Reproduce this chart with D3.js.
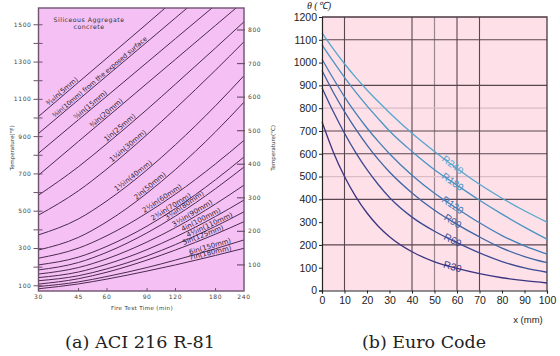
<!DOCTYPE html>
<html>
<head>
<meta charset="utf-8">
<script src="https://cdn.jsdelivr.net/npm/d3@7"></script>
<style>
  body { margin: 0; background: #fff; }
</style>
</head>
<body>
<div class="canvas"></div>
<script>
// ---------- (a) ACI 216 R-81 : temperature (°F) vs fire test time (min)
const aciTimes = [30, 45, 60, 90, 120, 180, 240];
const aciLabels = [
  '³⁄₁₆in(5mm)', '⅜in(10mm) from the exposed surface', '⅝in(15mm)', '¾in(20mm)',
  '1in(25mm)', '1¼in(30mm)', '1½in(40mm)', '2in(50mm)', '2½in(60mm)', '2¾in(70mm)',
  '3¼in(80mm)', '3½in(90mm)', '4in(100mm)', '4½in(110mm)', '5in(125mm)', '6in(150mm)', '7in(180mm)'
];
// where each label sits along its curve (min)
const aciLabelTimes = [39, 57, 52, 61, 70, 76, 80, 95, 107, 117, 134, 145, 158, 172, 161, 172, 172];
const aciTemps = [
  [1008, 1192, 1322, 1506, 1638, 1822, 1952],
  [917, 1098, 1227, 1408, 1537, 1719, 1847],
  [811, 991, 1118, 1298, 1426, 1606, 1733],
  [693, 875, 1004, 1186, 1315, 1497, 1626],
  [586, 739, 863, 1046, 1182, 1376, 1516],
  [479, 610, 727, 911, 1051, 1257, 1409],
  [373, 459, 556, 722, 857, 1066, 1227],
  [292, 360, 444, 597, 724, 926, 1085],
  [248, 302, 369, 491, 592, 754, 880],
  [212, 254, 312, 420, 515, 669, 791],
  [185, 225, 280, 384, 474, 621, 737],
  [163, 198, 245, 335, 412, 539, 640],
  [144, 174, 216, 294, 362, 472, 560],
  [127, 154, 191, 260, 321, 419, 497],
  [109, 138, 173, 238, 292, 377, 444],
  [96, 121, 150, 198, 238, 299, 346],
  [84, 110, 136, 179, 212, 263, 301]
];
const aciFTicks = [100, 200, 300, 400, 500, 600, 700, 800, 900, 1000, 1100, 1200, 1300, 1400, 1500];
const aciFLabelled = [100, 300, 500, 700, 900, 1100, 1300, 1500];
const aciCTicks = [100, 200, 300, 400, 500, 600, 700, 800];
const aciTimeTicks = [30, 45, 60, 90, 120, 180, 240];

// ---------- (b) Euro Code : temperature (°C) vs depth x (mm)
const euroX = [0, 5, 10, 15, 20, 25, 30, 40, 50, 60, 70, 80, 90, 100];
const r30 = [740, 608, 500, 412, 340, 282, 236, 170, 126, 97, 74, 56, 43, 33];
const r60 = [890, 785, 690, 605, 530, 465, 408, 322, 260, 210, 165, 127, 99, 80];
const r90 = [965, 870, 785, 708, 638, 575, 520, 428, 352, 290, 235, 186, 149, 122];
const r120 = [1015, 930, 850, 778, 713, 654, 600, 506, 427, 360, 297, 241, 196, 160];
const r180 = [1078, 1005, 935, 870, 810, 754, 700, 610, 530, 462, 396, 335, 278, 225];
const r240 = [1130, 1060, 995, 935, 880, 829, 780, 690, 610, 535, 466, 405, 350, 300];
const euroNames = ['R30', 'R60', 'R90', 'R120', 'R180', 'R240'];
const euroSeries = [r30, r60, r90, r120, r180, r240];
const euroColors = ['#3a3380', '#3b4a93', '#3e64a4', '#437db7', '#4a93c4', '#55a6cf'];
const euroLabelX = 58;
const euroTTicks = [0, 100, 200, 300, 400, 500, 600, 700, 800, 900, 1000, 1100, 1200];
const euroXTicks = [0, 10, 20, 30, 40, 50, 60, 70, 80, 90, 100];
const euroGridX = [10, 40, 60, 70];
const euroGridXLight = [50];
const euroGridY = [1100, 900, 700, 600, 400, 200];
const euroGridYLight = [800, 500];

const svg = d3
  .select('.canvas')
  .append('svg')
  .attr('width', 560)
  .attr('height', 356)
  .style('display', 'block');

// ================= panel (a) =================
const ax = d3.scaleLog().domain([30, 240]).range([38.5, 244]);
const ay = d3.scaleLinear().domain([72, 1590]).range([291, 8]);
const ayC = d3.scaleLinear().domain([(72 - 32) / 1.8, (1590 - 32) / 1.8]).range([291, 8]);
const [ax0, ax1] = ax.range();
const [ay0, ay1] = ay.range();

const ga = svg.append('g');
ga.append('rect')
  .attr('x', ax0).attr('y', ay1)
  .attr('width', ax1 - ax0).attr('height', ay0 - ay1)
  .attr('fill', '#f5c1f5');

svg.append('clipPath').attr('id', 'clipA')
  .append('rect')
  .attr('x', ax0).attr('y', ay1)
  .attr('width', ax1 - ax0).attr('height', ay0 - ay1);

const aLine = d3.line()
  .x((d, i) => ax(aciTimes[i]))
  .y(d => ay(d))
  .curve(d3.curveMonotoneX);

ga.append('g').attr('clip-path', 'url(#clipA)')
  .selectAll('path')
  .data(aciTemps)
  .enter()
  .append('path')
  .attr('d', aLine)
  .attr('fill', 'none')
  .attr('stroke', '#4a2a4c')
  .attr('stroke-width', 1);

// curve labels
const pointOn = (vals, t) => {
  let i = 0;
  while (i < aciTimes.length - 2 && t > aciTimes[i + 1]) i++;
  const x0 = ax(aciTimes[i]), x1 = ax(aciTimes[i + 1]);
  const y0 = ay(vals[i]), y1 = ay(vals[i + 1]);
  const f = (ax(t) - x0) / (x1 - x0);
  return { x: ax(t), y: y0 + f * (y1 - y0), a: Math.atan2(y1 - y0, x1 - x0) * 180 / Math.PI };
};
aciTemps.forEach((vals, i) => {
  const p = pointOn(vals, aciLabelTimes[i]);
  ga.append('text')
    .attr('transform', `translate(${p.x},${p.y}) rotate(${p.a})`)
    .attr('dy', -1.5)
    .attr('text-anchor', 'middle')
    .attr('font-family', 'DejaVu Sans, sans-serif')
    .attr('font-size', i === 1 ? 6.4 : 7)
    .attr('fill', '#2e1e30')
    .text(aciLabels[i]);
});

// frame
ga.append('rect')
  .attr('x', ax0).attr('y', ay1)
  .attr('width', ax1 - ax0).attr('height', ay0 - ay1)
  .attr('fill', 'none')
  .attr('stroke', '#6e5270')
  .attr('stroke-width', 1.4);

// left °F ticks
ga.selectAll('.ftick').data(aciFTicks).enter().append('line')
  .attr('x1', ax0 - 5).attr('x2', ax0 + 4)
  .attr('y1', d => ay(d)).attr('y2', d => ay(d))
  .attr('stroke', '#6e5270').attr('stroke-width', 1);
ga.selectAll('.flab').data(aciFLabelled).enter().append('text')
  .attr('x', ax0 - 7).attr('y', d => ay(d) + 2)
  .attr('text-anchor', 'end')
  .attr('font-family', 'DejaVu Sans, sans-serif')
  .attr('font-size', 6).attr('letter-spacing', 0.6)
  .attr('fill', '#444')
  .text(d => d);

// right °C ticks
ga.selectAll('.ctick').data(aciCTicks).enter().append('line')
  .attr('x1', ax1 - 7).attr('x2', ax1 + 1)
  .attr('y1', d => ayC(d)).attr('y2', d => ayC(d))
  .attr('stroke', '#6e5270').attr('stroke-width', 1.2);
ga.selectAll('.clab').data(aciCTicks).enter().append('text')
  .attr('x', ax1 + 4).attr('y', d => ayC(d) + 2)
  .attr('font-family', 'DejaVu Sans, sans-serif')
  .attr('font-size', 6).attr('letter-spacing', 0.6)
  .attr('fill', '#444')
  .text(d => d);

// time ticks
ga.selectAll('.ttick').data(aciTimeTicks.slice(1, -1)).enter().append('line')
  .attr('x1', d => ax(d)).attr('x2', d => ax(d))
  .attr('y1', ay0).attr('y2', ay0 - 3)
  .attr('stroke', '#6e5270');
ga.selectAll('.tlab').data(aciTimeTicks).enter().append('text')
  .attr('x', d => ax(d)).attr('y', 299)
  .attr('text-anchor', 'middle')
  .attr('font-family', 'DejaVu Sans, sans-serif')
  .attr('font-size', 6).attr('letter-spacing', 0.6)
  .attr('fill', '#444')
  .text(d => d);

// axis titles
ga.append('text')
  .attr('transform', 'translate(14,148) rotate(-90)')
  .attr('text-anchor', 'middle')
  .attr('font-family', 'DejaVu Sans, sans-serif')
  .attr('font-size', 5.5).attr('fill', '#333')
  .text('Temperature(°F)');
ga.append('text')
  .attr('transform', 'translate(275,148) rotate(-90)')
  .attr('text-anchor', 'middle')
  .attr('font-family', 'DejaVu Sans, sans-serif')
  .attr('font-size', 5.5).attr('fill', '#333')
  .text('Temperature(°C)');
ga.append('text')
  .attr('x', 142).attr('y', 310)
  .attr('text-anchor', 'middle')
  .attr('font-family', 'DejaVu Sans, sans-serif')
  .attr('font-size', 5.5).attr('letter-spacing', 0.4).attr('fill', '#333')
  .text('Fire Test Time (min)');

// inner title
ga.append('text')
  .attr('x', 89).attr('y', 22)
  .attr('text-anchor', 'middle')
  .attr('font-family', 'DejaVu Sans, sans-serif')
  .attr('font-size', 6.2).attr('letter-spacing', 0.5).attr('fill', '#333')
  .text('Siliceous Aggregate');
ga.append('text')
  .attr('x', 89).attr('y', 29)
  .attr('text-anchor', 'middle')
  .attr('font-family', 'DejaVu Sans, sans-serif')
  .attr('font-size', 6.2).attr('letter-spacing', 0.5).attr('fill', '#333')
  .text('concrete');

// ================= panel (b) =================
const bx = d3.scaleLinear().domain([0, 100]).range([322, 547]);
const by = d3.scaleLinear().domain([0, 1200]).range([290.5, 17]);
const [bx0, bx1] = bx.range();
const [by0, by1] = by.range();

const gb = svg.append('g');
gb.append('rect')
  .attr('x', bx0).attr('y', by1)
  .attr('width', bx1 - bx0).attr('height', by0 - by1)
  .attr('fill', '#fde0e8');

// grid
gb.selectAll('.gxl').data(euroGridXLight).enter().append('line')
  .attr('x1', d => bx(d)).attr('x2', d => bx(d)).attr('y1', by0).attr('y2', by1)
  .attr('stroke', '#9a8890').attr('stroke-width', 1.2);
gb.selectAll('.gyl').data(euroGridYLight).enter().append('line')
  .attr('y1', d => by(d)).attr('y2', d => by(d)).attr('x1', bx0).attr('x2', bx1)
  .attr('stroke', '#d9bcc6').attr('stroke-width', 1.2);
gb.selectAll('.gx').data(euroGridX).enter().append('line')
  .attr('x1', d => bx(d)).attr('x2', d => bx(d)).attr('y1', by0).attr('y2', by1)
  .attr('stroke', '#5a4650').attr('stroke-width', 1.1);
gb.selectAll('.gy').data(euroGridY).enter().append('line')
  .attr('y1', d => by(d)).attr('y2', d => by(d)).attr('x1', bx0).attr('x2', bx1)
  .attr('stroke', '#5a4650').attr('stroke-width', 1.1);

// frame top / right
gb.append('path')
  .attr('d', `M${bx0},${by1}H${bx1}V${by0}`)
  .attr('fill', 'none').attr('stroke', '#4a3a42').attr('stroke-width', 1.3);

const bLine = d3.line()
  .x((d, i) => bx(euroX[i]))
  .y(d => by(d))
  .curve(d3.curveMonotoneX);

gb.selectAll('.curve').data(euroSeries).enter().append('path')
  .attr('d', bLine)
  .attr('fill', 'none')
  .attr('stroke', (d, i) => euroColors[i])
  .attr('stroke-width', 1.3);

euroSeries.forEach((vals, i) => {
  const j = euroX.findIndex(v => v >= euroLabelX) - 1;
  const x0 = bx(euroX[j]), x1 = bx(euroX[j + 1]);
  const y0 = by(vals[j]), y1 = by(vals[j + 1]);
  const f = (bx(euroLabelX) - x0) / (x1 - x0);
  const ang = Math.atan2(y1 - y0, x1 - x0) * 180 / Math.PI;
  gb.append('text')
    .attr('transform', `translate(${bx(euroLabelX)},${y0 + f * (y1 - y0)}) rotate(${ang})`)
    .attr('text-anchor', 'middle')
    .attr('dy', 3)
    .attr('font-family', 'Liberation Sans, Arial, sans-serif')
    .attr('font-size', 10)
    .attr('fill', euroColors[i])
    .text(euroNames[i]);
});

// axes
const yAxisB = d3.axisLeft(by).tickValues(euroTTicks).tickSize(3).tickPadding(2).tickFormat(d3.format('d'));
const xAxisB = d3.axisBottom(bx).tickValues(euroXTicks).tickSize(3).tickPadding(3).tickFormat(d3.format('d'));
const yg = gb.append('g').attr('transform', `translate(${bx0},0)`).call(yAxisB);
const xg = gb.append('g').attr('transform', `translate(0,${by0})`).call(xAxisB);
[yg, xg].forEach(g => {
  g.select('.domain').attr('stroke', '#222').attr('stroke-width', 1.2);
  g.selectAll('line').attr('stroke', '#222');
  g.selectAll('text')
    .attr('font-family', 'Liberation Sans, Arial, sans-serif')
    .attr('font-size', 10.5)
    .attr('fill', '#222');
});

gb.append('text')
  .attr('x', 528).attr('y', 323)
  .attr('text-anchor', 'middle')
  .attr('font-family', 'Liberation Sans, Arial, sans-serif')
  .attr('font-size', 9.5).attr('fill', '#222')
  .text('x (mm)');
gb.append('text')
  .attr('x', 319).attr('y', 9)
  .attr('text-anchor', 'middle')
  .attr('font-family', 'Liberation Serif, serif')
  .attr('font-style', 'italic')
  .attr('font-size', 10).attr('fill', '#222')
  .text('θ (℃)');

// ================= captions =================
svg.append('text')
  .attr('x', 140).attr('y', 348)
  .attr('text-anchor', 'middle')
  .attr('font-family', 'DejaVu Serif, serif')
  .attr('font-size', 16.5).attr('fill', '#222')
  .attr('textLength', 150).attr('lengthAdjust', 'spacingAndGlyphs')
  .text('(a) ACI 216 R-81');
svg.append('text')
  .attr('x', 424).attr('y', 348)
  .attr('text-anchor', 'middle')
  .attr('font-family', 'DejaVu Serif, serif')
  .attr('font-size', 16.5).attr('fill', '#222')
  .attr('textLength', 124).attr('lengthAdjust', 'spacingAndGlyphs')
  .text('(b) Euro Code');
</script>
</body>
</html>
